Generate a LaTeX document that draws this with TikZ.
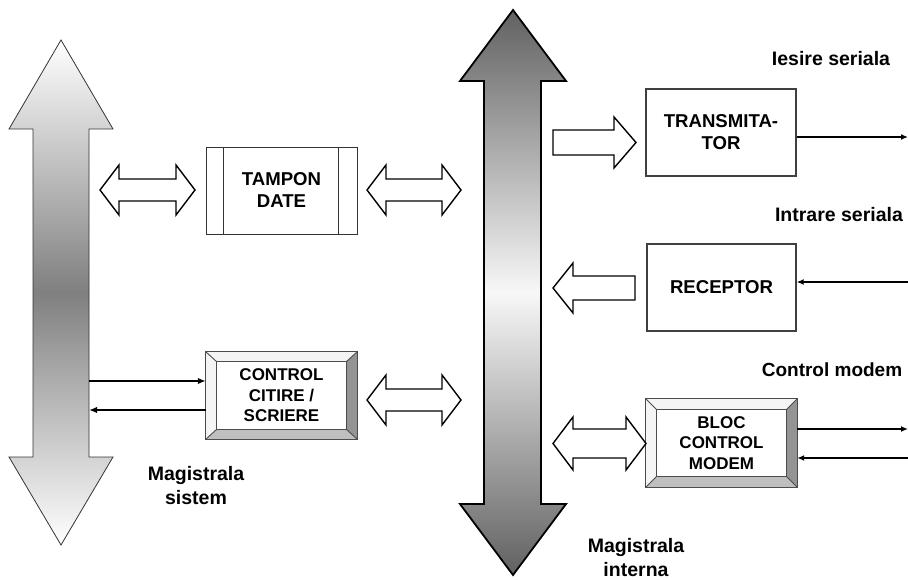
\documentclass[tikz,border=0pt]{standalone}
\usepackage{fontspec}
\setmainfont{Liberation Sans}
\usetikzlibrary{arrows.meta,calc,backgrounds}

\newcommand\bevelface[3]{% node, inset x, inset y
  \begin{scope}[on background layer]
    \coordinate (o1) at (#1.north west);
    \coordinate (o2) at (#1.north east);
    \coordinate (o3) at (#1.south east);
    \coordinate (o4) at (#1.south west);
    \coordinate (i1) at ($(o1)+(#2,#3)$);
    \coordinate (i2) at ($(o2)+(-#2,#3)$);
    \coordinate (i3) at ($(o3)+(-#2,-#3)$);
    \coordinate (i4) at ($(o4)+(#2,-#3)$);
    \fill[beveltop] (o1) -- (o2) -- (i2) -- (i1) -- cycle;
    \fill[beveltop] (o1) -- (i1) -- (i4) -- (o4) -- cycle;
    \fill[bevelright] (o2) -- (o3) -- (i3) -- (i2) -- cycle;
    \fill[bevelbottom] (o4) -- (o3) -- (i3) -- (i4) -- cycle;
    \fill[white] (i1) rectangle (i3);
    \draw[bevelline] (o1) rectangle (o3);
    \draw[bevelline] (i1) rectangle (i3);
    \draw[bevelline] (o1) -- (i1) (o2) -- (i2) (o3) -- (i3) (o4) -- (i4);
  \end{scope}}

\newcommand\hollowdbl[6]{% x1, x2, yc, head length, head half, shaft half
  \draw[hollow] (#1,#3) -- (#1+#4,#3-#5) -- (#1+#4,#3-#6) -- (#2-#4,#3-#6)
    -- (#2-#4,#3-#5) -- (#2,#3) -- (#2-#4,#3+#5) -- (#2-#4,#3+#6)
    -- (#1+#4,#3+#6) -- (#1+#4,#3+#5) -- cycle;}

\begin{document}
\begin{tikzpicture}[x=1pt,y=-1pt,
  boxtxt/.style={font=\fontsize{18.6}{22}\selectfont\bfseries, align=center, text=black},
  plainbox/.style={boxtxt, draw=black!75, line width=1.3pt, fill=white,
    minimum width=150pt, minimum height=87pt, inner sep=0pt},
  bevtxt/.style={font=\fontsize{17}{20.5}\selectfont\bfseries, align=center,
    minimum width=151pt, minimum height=87pt, inner sep=0pt},
  beveltop/.style={fill=black!4},
  bevelright/.style={fill=black!42},
  bevelbottom/.style={fill=black!25},
  bevelline/.style={draw=black!70, line width=0.9pt},
  lbl/.style={font=\fontsize{19.5}{24}\selectfont\bfseries, align=center},
  hollow/.style={draw=black, line width=1.4pt, fill=white, line join=miter},
  sig/.style={draw=black, line width=1.7pt, -{Latex[length=7pt,width=6pt]}},
  sigb/.style={draw=black, line width=2pt, -{Latex[length=8pt,width=6.5pt]}},
  busL/.style={draw=black!80, line width=0.8pt, top color=white, bottom color=white, middle color=black!50},
  busR/.style={draw=black, line width=1.8pt, top color=black!62, bottom color=black!62, middle color=black!3}
]
\begin{scope}[on background layer]
  \fill[white] (0,0) rectangle (908,580);
\end{scope}
\useasboundingbox (0,0) rectangle (908,580);

% system bus (left)
\draw[busL] (61,40) -- (113,129) -- (89,129) -- (89,457) -- (113,457) -- (61,545)
  -- (9,457) -- (33,457) -- (33,129) -- (9,129) -- cycle;
% internal bus (right)
\draw[busR] (513,10) -- (566,81) -- (541,81) -- (541,504) -- (566,504) -- (513,575)
  -- (460,504) -- (484,504) -- (484,81) -- (460,81) -- cycle;

\coordinate (sysbus1) at (89,381);
\coordinate (sysbus2) at (89,410);

% TAMPON DATE
\node[boxtxt, draw=black!80, line width=0.9pt, fill=white, minimum width=151pt,
  minimum height=87pt, inner sep=0pt] (tampon) at (281.5,190.5) {TAMPON\\DATE};
\draw[black!80, line width=0.9pt] ($(tampon.north west)+(18,0)$) -- ($(tampon.south west)+(18,0)$);
\draw[black!80, line width=0.9pt] ($(tampon.north east)+(-19,0)$) -- ($(tampon.south east)+(-19,0)$);

% CONTROL CITIRE / SCRIERE
\node[bevtxt] (ctrl) at (281.5,395.5) {CONTROL\\CITIRE /\\SCRIERE};
\bevelface{ctrl}{11}{10}

% TRANSMITATOR, RECEPTOR
\node[plainbox] (tx) at (721,132.5) {TRANSMITA-\\TOR};
\node[plainbox, minimum width=149pt] (rx) at (721.5,287.5) {RECEPTOR};

% BLOC CONTROL MODEM
\node[bevtxt, minimum height=88pt] (bloc) at (721.5,443) {BLOC\\CONTROL\\MODEM};
\bevelface{bloc}{11}{11}

% hollow block arrows
\hollowdbl{100}{195}{190}{19}{25}{11}
\hollowdbl{367}{461}{190}{19}{25}{11}
\hollowdbl{367}{461}{400}{19}{25}{11}
\hollowdbl{553}{646}{443.5}{20}{26.5}{14.5}
\draw[hollow] (553,130) -- (614,130) -- (614,117) -- (636,142.5) -- (614,168)
  -- (614,155) -- (553,155) -- cycle;
\draw[hollow] (635,276) -- (573,276) -- (573,263) -- (553,288) -- (573,313)
  -- (573,300) -- (635,300) -- cycle;

% signal lines
\coordinate (txout) at (908,137);
\coordinate (rxin) at (908,282);
\coordinate (mdout) at (908,429);
\coordinate (mdin) at (908,458);
\draw[sig] (tx.east |- txout) -- (txout);
\draw[sig] (rxin) -- (rx.east |- rxin);
\draw[sig] (bloc.east |- mdout) -- (mdout);
\draw[sig] (mdin) -- (bloc.east |- mdin);
\draw[sigb] (sysbus1) -- (ctrl.west |- sysbus1);
\draw[sigb] (ctrl.west |- sysbus2) -- (sysbus2);

% labels
\node[lbl] (lout) at (831,59) {Iesire seriala};
\node[lbl] (lin) at (839,215) {Intrare seriala};
\node[lbl, font=\fontsize{19}{24}\selectfont\bfseries] (lmod) at (832,370) {Control modem};
\node[lbl] (lsys) at (196,486) {Magistrala\\sistem};
\node[lbl] (lint) at (636,558) {Magistrala\\interna};
\end{tikzpicture}
\end{document}
